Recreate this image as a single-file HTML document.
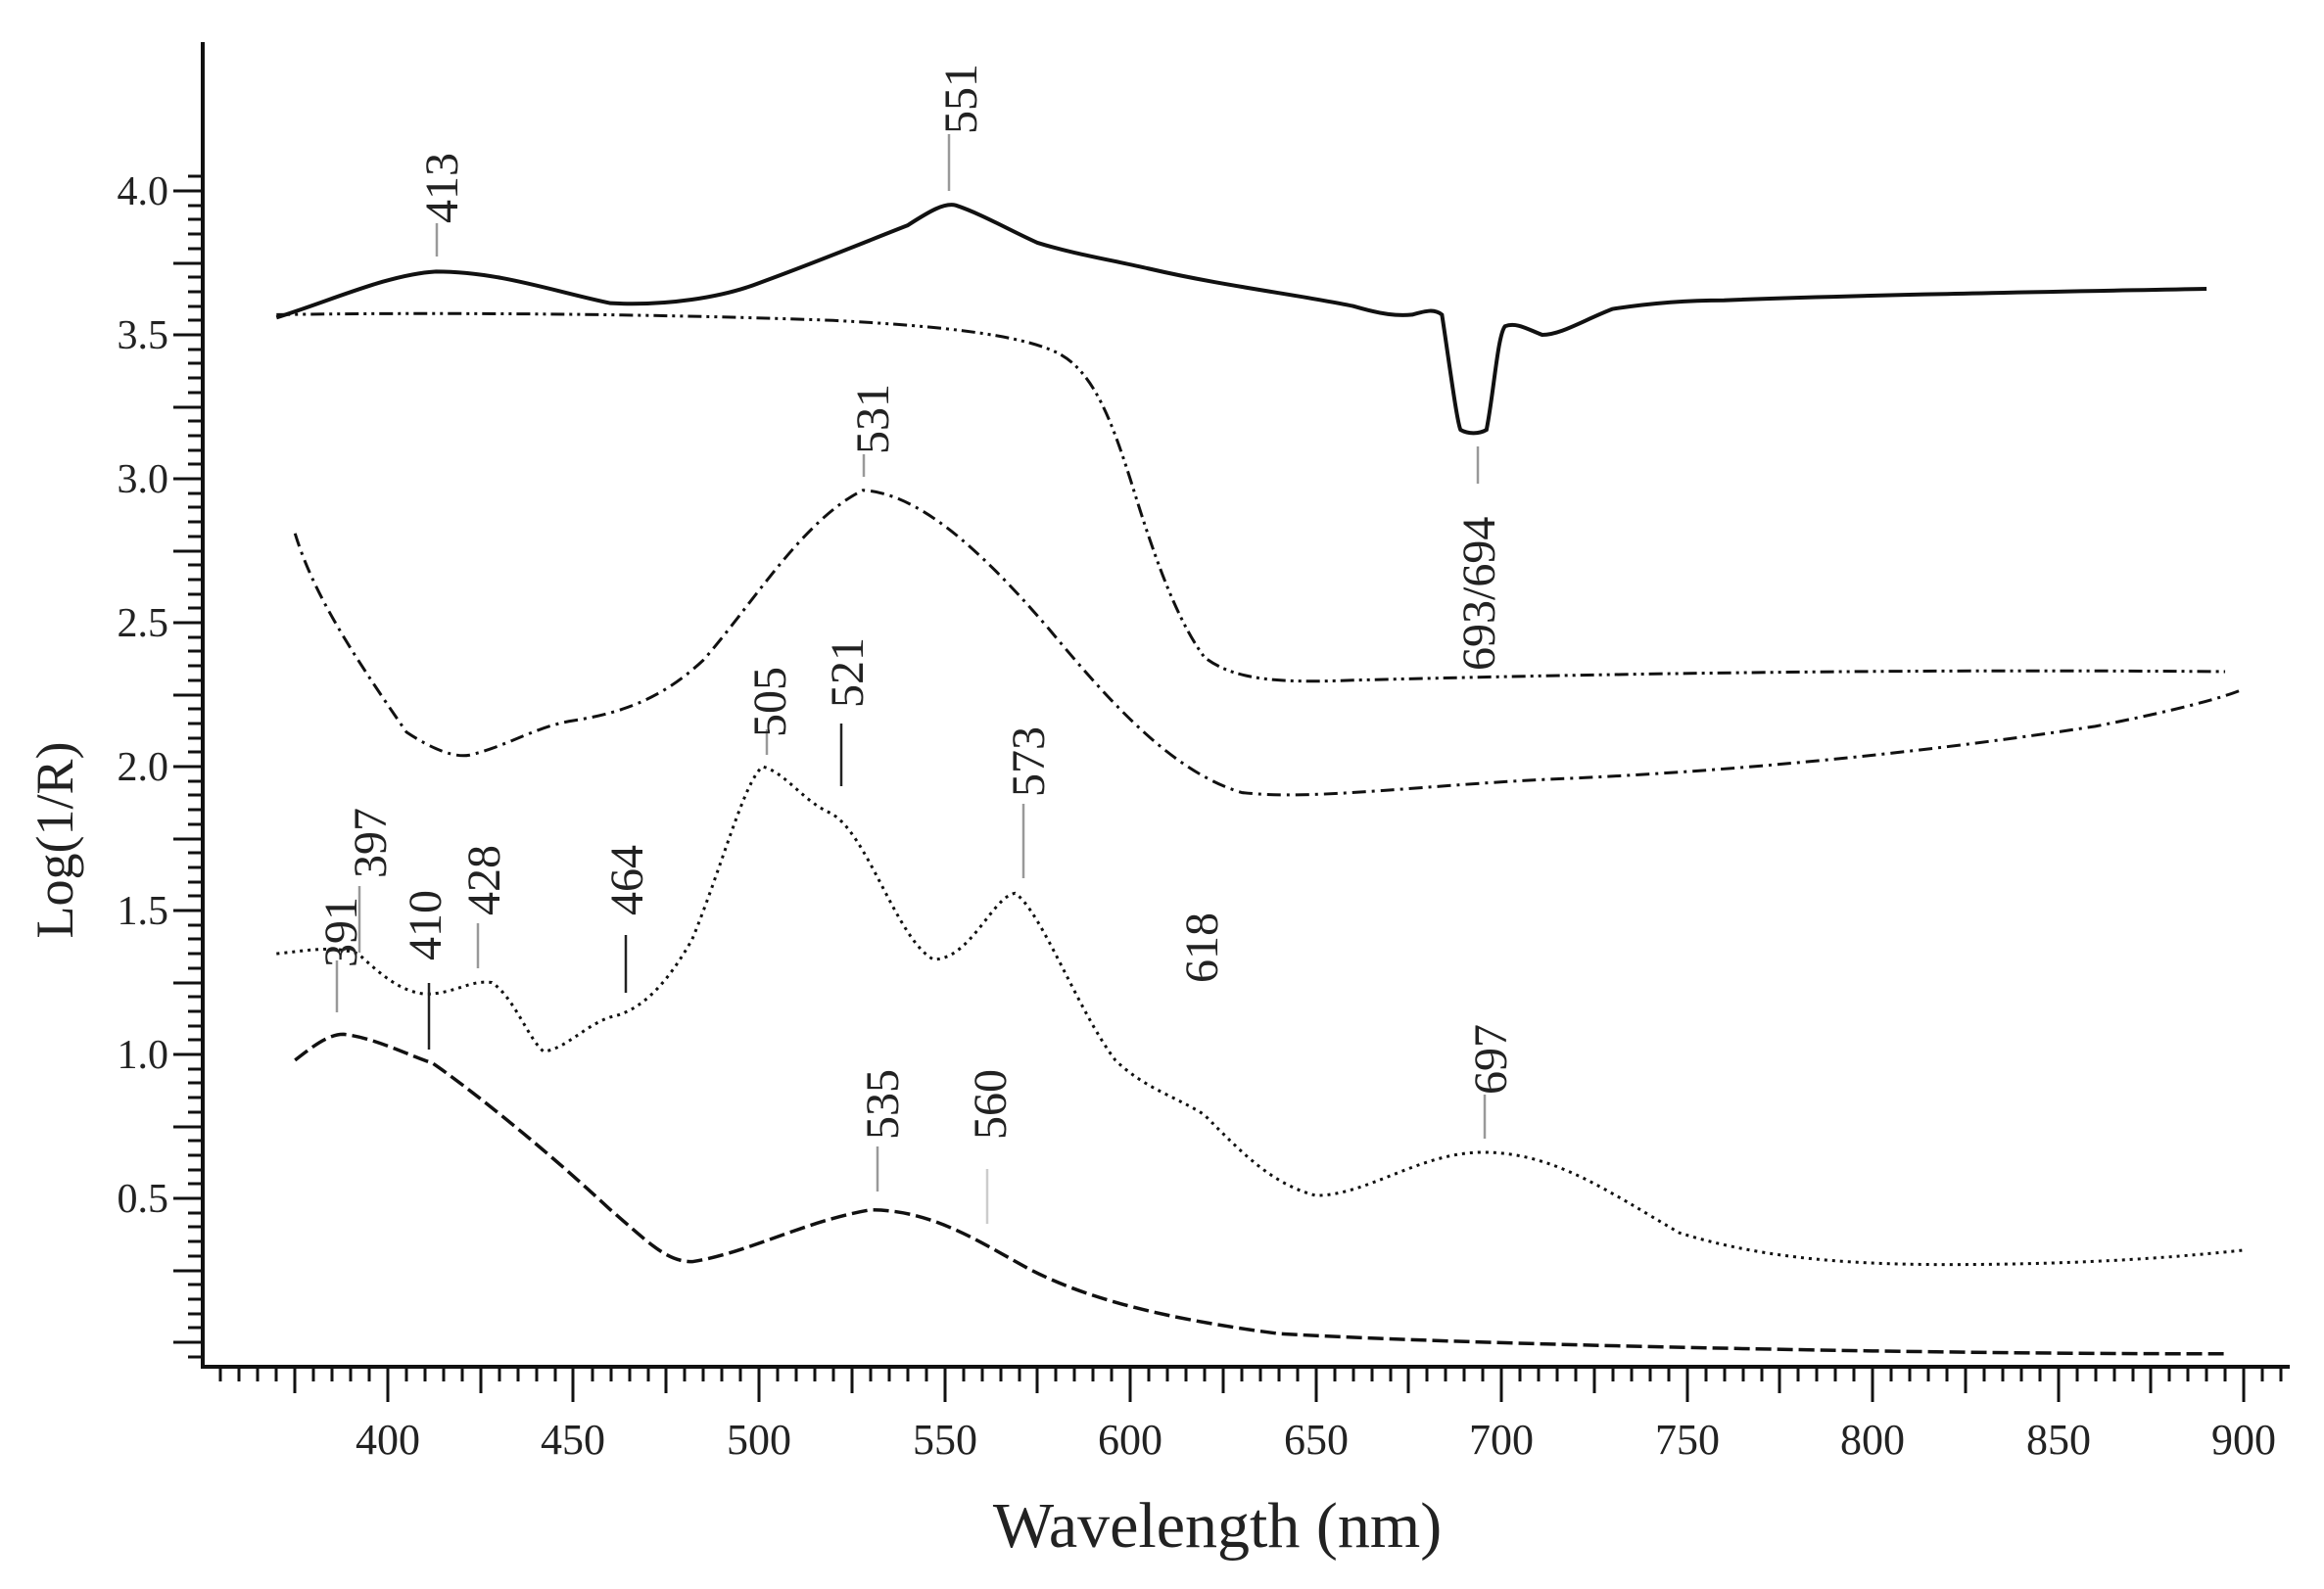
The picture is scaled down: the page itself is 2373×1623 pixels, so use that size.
<!DOCTYPE html>
<html><head><meta charset="utf-8"><style>
html,body{margin:0;padding:0;background:#fff}
svg{display:block}
text{font-family:"Liberation Serif",serif;fill:#222}
</style></head><body>
<svg width="2373" height="1623" viewBox="0 0 2373 1623" xmlns="http://www.w3.org/2000/svg">
<!-- axes -->
<line x1="207" y1="43" x2="207" y2="1396" stroke="#111" stroke-width="4"/>
<line x1="205" y1="1396" x2="2338" y2="1396" stroke="#111" stroke-width="4"/>
<!-- y ticks -->
<g stroke="#111" stroke-width="3">
<path d="M192 1386h15M192 1371h15M192 1356h15M192 1342h15M192 1327h15M192 1312h15M192 1298h15M192 1283h15M192 1268h15M192 1253h15M192 1239h15M192 1224h15M192 1209h15M192 1195h15M192 1180h15M192 1165h15M192 1151h15M192 1136h15M192 1121h15M192 1106h15M192 1092h15M192 1077h15M192 1062h15M192 1048h15M192 1033h15M192 1018h15M192 1004h15M192 989h15M192 974h15M192 959h15M192 945h15M192 930h15M192 915h15M192 901h15M192 886h15M192 871h15M192 857h15M192 842h15M192 827h15M192 812h15M192 798h15M192 783h15M192 768h15M192 754h15M192 739h15M192 724h15M192 710h15M192 695h15M192 680h15M192 665h15M192 651h15M192 636h15M192 621h15M192 607h15M192 592h15M192 577h15M192 563h15M192 548h15M192 533h15M192 518h15M192 504h15M192 489h15M192 474h15M192 460h15M192 445h15M192 430h15M192 416h15M192 401h15M192 386h15M192 371h15M192 357h15M192 342h15M192 327h15M192 313h15M192 298h15M192 283h15M192 269h15M192 254h15M192 239h15M192 224h15M192 210h15M192 195h15M192 180h15"/>
<path d="M177 1371h30M177 1224h30M177 1077h30M177 930h30M177 783h30M177 636h30M177 489h30M177 342h30M177 195h30M177 1298h30M177 1151h30M177 1004h30M177 857h30M177 710h30M177 563h30M177 416h30M177 269h30"/>
</g>
<!-- x ticks -->
<g stroke="#111" stroke-width="3">
<path d="M225 1396v15M244 1396v15M263 1396v15M282 1396v15M320 1396v15M339 1396v15M358 1396v15M377 1396v15M415 1396v15M434 1396v15M453 1396v15M472 1396v15M510 1396v15M529 1396v15M548 1396v15M567 1396v15M605 1396v15M624 1396v15M643 1396v15M662 1396v15M699 1396v15M718 1396v15M737 1396v15M756 1396v15M794 1396v15M813 1396v15M832 1396v15M851 1396v15M889 1396v15M908 1396v15M927 1396v15M946 1396v15M984 1396v15M1003 1396v15M1022 1396v15M1041 1396v15M1078 1396v15M1097 1396v15M1116 1396v15M1135 1396v15M1173 1396v15M1192 1396v15M1211 1396v15M1230 1396v15M1268 1396v15M1287 1396v15M1306 1396v15M1325 1396v15M1363 1396v15M1382 1396v15M1401 1396v15M1420 1396v15M1457 1396v15M1476 1396v15M1495 1396v15M1514 1396v15M1552 1396v15M1571 1396v15M1590 1396v15M1609 1396v15M1647 1396v15M1666 1396v15M1685 1396v15M1704 1396v15M1742 1396v15M1761 1396v15M1780 1396v15M1799 1396v15M1836 1396v15M1855 1396v15M1874 1396v15M1893 1396v15M1931 1396v15M1950 1396v15M1969 1396v15M1988 1396v15M2026 1396v15M2045 1396v15M2064 1396v15M2083 1396v15M2121 1396v15M2140 1396v15M2159 1396v15M2178 1396v15M2215 1396v15M2234 1396v15M2253 1396v15M2272 1396v15M2310 1396v15M2329 1396v15"/>
<path d="M301 1396v27M491 1396v27M680 1396v27M870 1396v27M1059 1396v27M1249 1396v27M1438 1396v27M1628 1396v27M1817 1396v27M2007 1396v27M2196 1396v27"/>
<path d="M396 1396v36M585 1396v36M775 1396v36M965 1396v36M1154 1396v36M1344 1396v36M1533 1396v36M1723 1396v36M1912 1396v36M2102 1396v36M2291 1396v36"/>
</g>
<!-- tick labels -->
<g font-size="44" text-anchor="middle">
<text x="396" y="1485">400</text><text x="585" y="1485">450</text><text x="775" y="1485">500</text>
<text x="965" y="1485">550</text><text x="1154" y="1485">600</text><text x="1344" y="1485">650</text>
<text x="1533" y="1485">700</text><text x="1723" y="1485">750</text><text x="1912" y="1485">800</text>
<text x="2102" y="1485">850</text><text x="2291" y="1485">900</text>
</g>
<g font-size="42" text-anchor="end">
<text x="172" y="209">4.0</text><text x="172" y="356">3.5</text><text x="172" y="503">3.0</text>
<text x="172" y="650">2.5</text><text x="172" y="797">2.0</text><text x="172" y="944">1.5</text>
<text x="172" y="1091">1.0</text><text x="172" y="1238">0.5</text>
</g>
<text x="1243" y="1580" font-size="66" text-anchor="middle">Wavelength (nm)</text>
<text transform="translate(74,858) rotate(-90)" font-size="54" text-anchor="middle">Log(1/R)</text>

<g transform="matrix(3.79 0 0 -294 -1120 1371)" fill="none" stroke="#111">
<path vector-effect="non-scaling-stroke" stroke-width="4" d="M370 3.56 C385 3.62 400 3.71 413 3.72 C430 3.72 445 3.65 460 3.61 C475 3.6 490 3.63 500 3.68 C515 3.75 530 3.83 540 3.88 C546 3.93 550 3.96 553 3.95 C560 3.92 568 3.86 575 3.82 C585 3.78 595 3.76 605 3.73 C625 3.67 645 3.64 660 3.6 C668 3.57 672 3.565 676 3.57 C680 3.585 682 3.59 684 3.57 C686 3.4 688 3.2 689 3.17 C691 3.155 694 3.155 696 3.17 C698 3.3 699 3.5 701 3.53 C704 3.545 707 3.52 711 3.50 C716 3.5 722 3.55 730 3.59 C740 3.61 750 3.62 760 3.62 C800 3.64 850 3.65 890 3.66"/>
<path vector-effect="non-scaling-stroke" stroke-width="3" stroke-dasharray="14 5 3 5 3 5" d="M370 3.57 C420 3.58 480 3.57 520 3.55 C550 3.53 570 3.50 580 3.44 C590 3.38 595 3.2 600 3.0 C606 2.75 612 2.52 620 2.38 C628 2.30 640 2.29 660 2.30 C720 2.32 800 2.34 895 2.33"/>
<path vector-effect="non-scaling-stroke" stroke-width="3" stroke-dasharray="14 6 3 6" d="M375 2.81 C380 2.6 390 2.4 405 2.12 C412 2.06 418 2.03 422 2.04 C432 2.07 440 2.14 450 2.16 C465 2.19 475 2.25 485 2.37 C498 2.56 512 2.86 528 2.96 C542 2.95 558 2.78 578 2.48 C596 2.2 612 1.98 630 1.91 C650 1.88 680 1.94 720 1.96 C770 1.99 820 2.06 860 2.14 C880 2.19 895 2.24 900 2.27"/>
<path vector-effect="non-scaling-stroke" stroke-width="3" stroke-dasharray="3 5" d="M370 1.35 C378 1.36 385 1.38 392 1.35 C398 1.28 403 1.22 410 1.21 C418 1.21 422 1.26 428 1.25 C434 1.2 438 1.05 442 1.01 C448 1.02 453 1.1 460 1.13 C468 1.15 475 1.24 482 1.4 C490 1.65 496 1.95 501 2.0 C507 1.98 512 1.88 519 1.84 C529 1.78 537 1.4 547 1.33 C557 1.33 563 1.55 569 1.56 C576 1.5 586 1.15 596 0.98 C604 0.88 613 0.85 620 0.79 C630 0.66 638 0.55 650 0.51 C664 0.51 678 0.66 695 0.66 C714 0.66 728 0.53 748 0.38 C768 0.3 790 0.27 820 0.27 C860 0.27 885 0.3 900 0.32"/>
<path vector-effect="non-scaling-stroke" stroke-width="3.5" stroke-dasharray="16 6" d="M375 0.98 C380 1.03 384 1.07 388 1.07 C396 1.06 405 1.0 412 0.97 C420 0.9 440 0.7 460 0.46 C470 0.35 475 0.28 482 0.28 C497 0.31 512 0.42 530 0.46 C546 0.46 558 0.36 572 0.26 C588 0.15 610 0.08 640 0.03 C680 0.0 750 -0.02 800 -0.03 C850 -0.04 880 -0.04 895 -0.04"/>
</g>

<g stroke="#999" stroke-width="2.5">
<path d="M446 228V262M969 137V195M882 464V487M1509 456V494M783 745V771M1045 821V897M1516 1118V1163M344 981V1034M367 905V973M488 943V989M896 1171V1217"/>
</g>
<g stroke="#222" stroke-width="2.5"><path d="M859 739V803M639 955V1014M438 1004V1072"/></g>
<path d="M1008 1194V1250" stroke="#ccc" stroke-width="2.5"/>
<g font-size="48">
<text transform="translate(467,228) rotate(-90)">413</text>
<text transform="translate(997,137) rotate(-90)">551</text>
<text transform="translate(907,464) rotate(-90)">531</text>
<text transform="translate(1526,685) rotate(-90)">693/694</text>
<text transform="translate(802,753) rotate(-90)">505</text>
<text transform="translate(881,723) rotate(-90)">521</text>
<text transform="translate(1066,814) rotate(-90)">573</text>
<text transform="translate(1243,1004) rotate(-90)">618</text>
<text transform="translate(1538,1118) rotate(-90)">697</text>
<text transform="translate(364,988) rotate(-90)">391</text>
<text transform="translate(394,897) rotate(-90)">397</text>
<text transform="translate(450,981) rotate(-90)">410</text>
<text transform="translate(510,935) rotate(-90)">428</text>
<text transform="translate(656,935) rotate(-90)">464</text>
<text transform="translate(917,1164) rotate(-90)">535</text>
<text transform="translate(1027,1164) rotate(-90)">560</text>
</g>
</svg>
</body></html>
